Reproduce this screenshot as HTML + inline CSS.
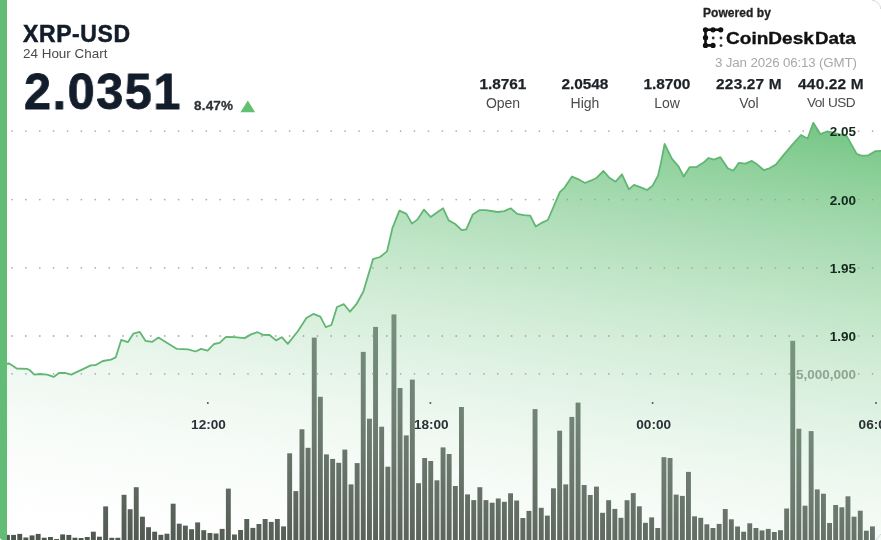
<!DOCTYPE html>
<html>
<head>
<meta charset="utf-8">
<style>
html,body{margin:0;padding:0;}
*{-webkit-font-smoothing:antialiased;}
#chart,.abs,.stat{will-change:transform;}
body{width:881px;height:540px;overflow:hidden;background:#fff;position:relative;font-family:"Liberation Sans",sans-serif;}
.abs{position:absolute;white-space:nowrap;}
#chart{position:absolute;left:0;top:0;}
.t{font-family:"Liberation Sans",sans-serif;}
#lbar{position:absolute;left:0;top:0;width:7px;height:540px;background:#63bc76;border-bottom-left-radius:3px;}
.sym{left:23px;top:20.5px;font-size:23px;font-weight:bold;color:#121c2a;letter-spacing:0.6px;-webkit-text-stroke:0.5px #121c2a;}
.sub{left:23px;top:45.6px;font-size:13.45px;color:#4a4a4a;}
.price{left:23.5px;top:62.2px;font-size:50.5px;font-weight:bold;color:#121c2a;letter-spacing:1.7px;-webkit-text-stroke:0.8px #121c2a;transform:scaleX(0.96);transform-origin:0 0;}
.pct{left:194px;top:98px;font-size:13.5px;font-weight:bold;color:#2e3338;letter-spacing:0.2px;-webkit-text-stroke:0.3px #2e3338;}
.stat{position:absolute;top:74.8px;width:90px;text-align:center;}
.stat .v{font-size:15.4px;font-weight:bold;color:#1d2228;line-height:18px;letter-spacing:-0.05px;-webkit-text-stroke:0.25px #1d2228;}
.stat .l{font-size:14px;color:#4a4a4a;line-height:16px;margin-top:2.2px;}
.pow{left:703px;top:5.5px;font-size:12px;font-weight:bold;color:#222;letter-spacing:0.05px;-webkit-text-stroke:0.3px #222;}
.cd{top:29px;font-size:17px;font-weight:bold;color:#111;transform-origin:0 0;-webkit-text-stroke:0.35px #111;}
.date{left:714.5px;top:55px;font-size:13.3px;color:#a8a8a8;letter-spacing:-0.14px;}
</style>
</head>
<body>
<svg id="chart" width="881" height="540" viewBox="0 0 881 540">
<defs>
<linearGradient id="g" gradientUnits="userSpaceOnUse" x1="881" y1="51" x2="790.1" y2="673.7"><stop offset="0.0000" stop-color="rgb(74,180,95)" stop-opacity="1.0000"/><stop offset="0.0625" stop-color="rgb(86,185,105)" stop-opacity="0.9375"/><stop offset="0.1250" stop-color="rgb(97,189,115)" stop-opacity="0.8750"/><stop offset="0.1875" stop-color="rgb(108,194,125)" stop-opacity="0.8125"/><stop offset="0.2500" stop-color="rgb(120,199,135)" stop-opacity="0.7500"/><stop offset="0.3125" stop-color="rgb(131,203,145)" stop-opacity="0.6875"/><stop offset="0.3750" stop-color="rgb(142,208,155)" stop-opacity="0.6250"/><stop offset="0.4375" stop-color="rgb(153,213,165)" stop-opacity="0.5625"/><stop offset="0.5000" stop-color="rgb(165,218,175)" stop-opacity="0.5000"/><stop offset="0.5625" stop-color="rgb(176,222,185)" stop-opacity="0.4375"/><stop offset="0.6250" stop-color="rgb(187,227,195)" stop-opacity="0.3750"/><stop offset="0.6875" stop-color="rgb(199,232,205)" stop-opacity="0.3125"/><stop offset="0.7500" stop-color="rgb(210,236,215)" stop-opacity="0.2500"/><stop offset="0.8125" stop-color="rgb(221,241,225)" stop-opacity="0.1875"/><stop offset="0.8750" stop-color="rgb(232,246,235)" stop-opacity="0.1250"/><stop offset="0.9375" stop-color="rgb(244,250,245)" stop-opacity="0.0625"/><stop offset="1.0000" stop-color="rgb(255,255,255)" stop-opacity="0.0000"/></linearGradient>
</defs>
<g fill="rgb(70,79,72)"><rect x="5" y="534.9" width="4.9" height="10.1"/><rect x="11.1" y="534.9" width="4.9" height="10.1"/><rect x="17.3" y="533.9" width="4.9" height="11.1"/><rect x="23.4" y="537.5" width="4.9" height="7.5"/><rect x="29.6" y="535.4" width="4.9" height="9.6"/><rect x="35.7" y="533.9" width="4.9" height="11.1"/><rect x="41.8" y="537.7" width="4.9" height="7.3"/><rect x="48" y="537" width="4.9" height="8"/><rect x="54.1" y="539" width="4.9" height="6"/><rect x="60.2" y="534.4" width="4.9" height="10.6"/><rect x="66.4" y="534.9" width="4.9" height="10.1"/><rect x="72.5" y="537.7" width="4.9" height="7.3"/><rect x="78.6" y="538" width="4.9" height="7"/><rect x="84.8" y="537" width="4.9" height="8"/><rect x="90.9" y="531.7" width="4.9" height="13.3"/><rect x="97" y="536.7" width="4.9" height="8.3"/><rect x="103.2" y="506.4" width="4.9" height="38.6"/><rect x="109.3" y="537.8" width="4.9" height="7.2"/><rect x="115.4" y="537.8" width="4.9" height="7.2"/><rect x="121.6" y="494.8" width="4.9" height="50.2"/><rect x="127.7" y="509.2" width="4.9" height="35.8"/><rect x="133.8" y="487.2" width="4.9" height="57.8"/><rect x="140" y="516.7" width="4.9" height="28.3"/><rect x="146.1" y="527.2" width="4.9" height="17.8"/><rect x="152.2" y="531.7" width="4.9" height="13.3"/><rect x="158.4" y="534.8" width="4.9" height="10.2"/><rect x="164.5" y="533.7" width="4.9" height="11.3"/><rect x="170.7" y="503.7" width="4.9" height="41.3"/><rect x="176.8" y="523.7" width="4.9" height="21.3"/><rect x="182.9" y="525.6" width="4.9" height="19.4"/><rect x="189.1" y="529.2" width="4.9" height="15.8"/><rect x="195.2" y="522.4" width="4.9" height="22.6"/><rect x="201.3" y="530.2" width="4.9" height="14.8"/><rect x="207.5" y="533" width="4.9" height="12"/><rect x="213.6" y="533.5" width="4.9" height="11.5"/><rect x="219.7" y="528.9" width="4.9" height="16.1"/><rect x="225.9" y="488.6" width="4.9" height="56.4"/><rect x="232" y="534.5" width="4.9" height="10.5"/><rect x="238.1" y="530" width="4.9" height="15"/><rect x="244.3" y="519" width="4.9" height="26"/><rect x="250.4" y="527.9" width="4.9" height="17.1"/><rect x="256.5" y="524" width="4.9" height="21"/><rect x="262.7" y="519" width="4.9" height="26"/><rect x="268.8" y="521.9" width="4.9" height="23.1"/><rect x="274.9" y="519" width="4.9" height="26"/><rect x="281.1" y="526.4" width="4.9" height="18.6"/><rect x="287.2" y="453.3" width="4.9" height="91.7"/><rect x="293.4" y="491.1" width="4.9" height="53.9"/><rect x="299.5" y="429.3" width="4.9" height="115.7"/><rect x="305.6" y="447.8" width="4.9" height="97.2"/><rect x="311.8" y="337.6" width="4.9" height="207.4"/><rect x="317.9" y="396.8" width="4.9" height="148.2"/><rect x="324" y="454.4" width="4.9" height="90.6"/><rect x="330.2" y="458.9" width="4.9" height="86.1"/><rect x="336.3" y="462.8" width="4.9" height="82.2"/><rect x="342.4" y="449.6" width="4.9" height="95.4"/><rect x="348.6" y="484.4" width="4.9" height="60.6"/><rect x="354.7" y="463.1" width="4.9" height="81.9"/><rect x="360.8" y="351.9" width="4.9" height="193.1"/><rect x="367" y="418.7" width="4.9" height="126.3"/><rect x="373.1" y="326.9" width="4.9" height="218.1"/><rect x="379.2" y="426.7" width="4.9" height="118.3"/><rect x="385.4" y="466.7" width="4.9" height="78.3"/><rect x="391.5" y="314.4" width="4.9" height="230.6"/><rect x="397.6" y="388" width="4.9" height="157"/><rect x="403.8" y="435.4" width="4.9" height="109.6"/><rect x="409.9" y="379.6" width="4.9" height="165.4"/><rect x="416.1" y="483.2" width="4.9" height="61.8"/><rect x="422.2" y="458" width="4.9" height="87"/><rect x="428.3" y="461" width="4.9" height="84"/><rect x="434.5" y="480.3" width="4.9" height="64.7"/><rect x="440.6" y="447.4" width="4.9" height="97.6"/><rect x="446.7" y="454" width="4.9" height="91"/><rect x="452.9" y="486" width="4.9" height="59"/><rect x="459" y="407" width="4.9" height="138"/><rect x="465.1" y="494.4" width="4.9" height="50.6"/><rect x="471.3" y="500.1" width="4.9" height="44.9"/><rect x="477.4" y="487.2" width="4.9" height="57.8"/><rect x="483.5" y="500.1" width="4.9" height="44.9"/><rect x="489.7" y="502.7" width="4.9" height="42.3"/><rect x="495.8" y="498.5" width="4.9" height="46.5"/><rect x="501.9" y="501.8" width="4.9" height="43.2"/><rect x="508.1" y="493.3" width="4.9" height="51.7"/><rect x="514.2" y="500.5" width="4.9" height="44.5"/><rect x="520.4" y="518" width="4.9" height="27"/><rect x="526.5" y="510.9" width="4.9" height="34.1"/><rect x="532.6" y="409.1" width="4.9" height="135.9"/><rect x="538.8" y="507.8" width="4.9" height="37.2"/><rect x="544.9" y="515.6" width="4.9" height="29.4"/><rect x="551" y="488.3" width="4.9" height="56.7"/><rect x="557.2" y="430.7" width="4.9" height="114.3"/><rect x="563.3" y="484.4" width="4.9" height="60.6"/><rect x="569.4" y="416.9" width="4.9" height="128.1"/><rect x="575.6" y="402.6" width="4.9" height="142.4"/><rect x="581.7" y="485" width="4.9" height="60"/><rect x="587.8" y="495" width="4.9" height="50"/><rect x="594" y="486.6" width="4.9" height="58.4"/><rect x="600.1" y="512.8" width="4.9" height="32.2"/><rect x="606.2" y="500.2" width="4.9" height="44.8"/><rect x="612.4" y="508.9" width="4.9" height="36.1"/><rect x="618.5" y="517.8" width="4.9" height="27.2"/><rect x="624.6" y="500.2" width="4.9" height="44.8"/><rect x="630.8" y="493.1" width="4.9" height="51.9"/><rect x="636.9" y="506.3" width="4.9" height="38.7"/><rect x="643" y="522.8" width="4.9" height="22.2"/><rect x="649.2" y="517.4" width="4.9" height="27.6"/><rect x="655.3" y="528" width="4.9" height="17"/><rect x="661.5" y="457.2" width="4.9" height="87.8"/><rect x="667.6" y="458" width="4.9" height="87"/><rect x="673.7" y="494.6" width="4.9" height="50.4"/><rect x="679.9" y="495.9" width="4.9" height="49.1"/><rect x="686" y="471.9" width="4.9" height="73.1"/><rect x="692.1" y="516.3" width="4.9" height="28.7"/><rect x="698.3" y="517.8" width="4.9" height="27.2"/><rect x="704.4" y="524.3" width="4.9" height="20.7"/><rect x="710.5" y="528" width="4.9" height="17"/><rect x="716.7" y="523.9" width="4.9" height="21.1"/><rect x="722.8" y="509" width="4.9" height="36"/><rect x="728.9" y="519.3" width="4.9" height="25.7"/><rect x="735.1" y="526.5" width="4.9" height="18.5"/><rect x="741.2" y="531.7" width="4.9" height="13.3"/><rect x="747.3" y="523.3" width="4.9" height="21.7"/><rect x="753.5" y="528" width="4.9" height="17"/><rect x="759.6" y="530.4" width="4.9" height="14.6"/><rect x="765.8" y="528.9" width="4.9" height="16.1"/><rect x="771.9" y="532" width="4.9" height="13"/><rect x="778" y="530.2" width="4.9" height="14.8"/><rect x="784.2" y="508.5" width="4.9" height="36.5"/><rect x="790.3" y="340.8" width="4.9" height="204.2"/><rect x="796.4" y="428.7" width="4.9" height="116.3"/><rect x="802.6" y="505.7" width="4.9" height="39.3"/><rect x="808.7" y="431.1" width="4.9" height="113.9"/><rect x="814.8" y="489.4" width="4.9" height="55.6"/><rect x="821" y="493.7" width="4.9" height="51.3"/><rect x="827.1" y="523" width="4.9" height="22"/><rect x="833.2" y="505" width="4.9" height="40"/><rect x="839.4" y="507.3" width="4.9" height="37.7"/><rect x="845.5" y="496.3" width="4.9" height="48.7"/><rect x="851.6" y="516.7" width="4.9" height="28.3"/><rect x="857.8" y="510.7" width="4.9" height="34.3"/><rect x="863.9" y="530.7" width="4.9" height="14.3"/><rect x="870" y="526.4" width="4.9" height="18.6"/></g>
<path d="M-2,364.5 L9.3,363.5 L16.7,368.5 L26.9,368.9 L29.6,370 L34.3,374.6 L39.8,374 L47.2,374.6 L53.7,376.9 L59.3,372.8 L65.7,373 L71.3,374.6 L82.4,369.4 L90.7,365.4 L95.4,365.2 L102.8,361 L111,359.6 L115.7,357.4 L121.3,339.8 L127.8,342.2 L133.3,333.7 L139.8,331.9 L145.6,340.9 L152,341.9 L158.5,337.6 L164,341 L177,348.9 L188,349.3 L195.6,351.5 L201,348.9 L207.6,350.7 L214,344 L219.6,342.8 L226,336.9 L234.4,337.2 L244.6,338.1 L251,334.4 L257.6,332.2 L263,334.8 L269.6,335 L276,340.4 L281.7,337.2 L287.8,343.9 L298,331 L306.4,318 L313.3,313.9 L320.3,316.7 L325.8,327.2 L331.4,325 L337,307 L343.9,304.2 L350,311.7 L356.4,304.2 L363.3,291.7 L373,259.2 L380,257 L387,251.4 L392.5,227.8 L399.4,210.6 L406.4,213.9 L412,223.6 L417.5,219.4 L424,209.6 L430.7,217 L437.6,212 L443.1,208.3 L448.7,220.4 L455.2,224 L461.7,230.2 L466.3,229.3 L472.8,214.4 L479.3,210.2 L485.7,210.2 L497.8,212 L504.3,211.1 L510.7,208.3 L517.2,213.9 L523.7,215.2 L530.2,215.7 L535.7,226.5 L542.2,222.6 L547.8,220 L553.3,207.4 L559.8,192.2 L564.6,187.6 L572,176.5 L578.5,179.3 L585,183 L590.6,180.7 L596,178.3 L603.5,171 L609,177.4 L615.6,181.7 L622,174.3 L628.9,189.4 L634,184.8 L641.5,187.6 L647,190 L652.6,185.7 L658,175.6 L661,162.6 L664.6,144 L672,158.9 L678.5,166.3 L683.7,176.5 L689.6,167.2 L696,167.2 L703.5,162.6 L708.6,158 L713.9,159.6 L720.4,157.2 L727.8,168.3 L733.3,170.7 L738.9,162.8 L745.4,163.7 L751.9,160.9 L757.4,164.6 L763.9,170.2 L769.4,168.3 L775.9,164.6 L783.3,155.4 L792.6,144.3 L801,135 L807.6,138.5 L813.3,122.8 L820.5,134.2 L826.8,131.5 L831,132.2 L846.7,136.1 L856.7,153.9 L861,155.6 L867.8,155.6 L875.6,151.1 L884,150.9 L884,545 L-2,545 Z" fill="url(#g)"/>
<g fill="#9a9a9a" fill-opacity="0.8"><circle cx="12" cy="131.1" r="0.9"/><circle cx="25.9" cy="131.1" r="0.9"/><circle cx="39.8" cy="131.1" r="0.9"/><circle cx="53.6" cy="131.1" r="0.9"/><circle cx="67.5" cy="131.1" r="0.9"/><circle cx="81.4" cy="131.1" r="0.9"/><circle cx="95.3" cy="131.1" r="0.9"/><circle cx="109.2" cy="131.1" r="0.9"/><circle cx="123" cy="131.1" r="0.9"/><circle cx="136.9" cy="131.1" r="0.9"/><circle cx="150.8" cy="131.1" r="0.9"/><circle cx="164.7" cy="131.1" r="0.9"/><circle cx="178.6" cy="131.1" r="0.9"/><circle cx="192.4" cy="131.1" r="0.9"/><circle cx="206.3" cy="131.1" r="0.9"/><circle cx="220.2" cy="131.1" r="0.9"/><circle cx="234.1" cy="131.1" r="0.9"/><circle cx="248" cy="131.1" r="0.9"/><circle cx="261.8" cy="131.1" r="0.9"/><circle cx="275.7" cy="131.1" r="0.9"/><circle cx="289.6" cy="131.1" r="0.9"/><circle cx="303.5" cy="131.1" r="0.9"/><circle cx="317.4" cy="131.1" r="0.9"/><circle cx="331.2" cy="131.1" r="0.9"/><circle cx="345.1" cy="131.1" r="0.9"/><circle cx="359" cy="131.1" r="0.9"/><circle cx="372.9" cy="131.1" r="0.9"/><circle cx="386.8" cy="131.1" r="0.9"/><circle cx="400.6" cy="131.1" r="0.9"/><circle cx="414.5" cy="131.1" r="0.9"/><circle cx="428.4" cy="131.1" r="0.9"/><circle cx="442.3" cy="131.1" r="0.9"/><circle cx="456.2" cy="131.1" r="0.9"/><circle cx="470" cy="131.1" r="0.9"/><circle cx="483.9" cy="131.1" r="0.9"/><circle cx="497.8" cy="131.1" r="0.9"/><circle cx="511.7" cy="131.1" r="0.9"/><circle cx="525.6" cy="131.1" r="0.9"/><circle cx="539.4" cy="131.1" r="0.9"/><circle cx="553.3" cy="131.1" r="0.9"/><circle cx="567.2" cy="131.1" r="0.9"/><circle cx="581.1" cy="131.1" r="0.9"/><circle cx="595" cy="131.1" r="0.9"/><circle cx="608.8" cy="131.1" r="0.9"/><circle cx="622.7" cy="131.1" r="0.9"/><circle cx="636.6" cy="131.1" r="0.9"/><circle cx="650.5" cy="131.1" r="0.9"/><circle cx="664.4" cy="131.1" r="0.9"/><circle cx="678.2" cy="131.1" r="0.9"/><circle cx="692.1" cy="131.1" r="0.9"/><circle cx="706" cy="131.1" r="0.9"/><circle cx="719.9" cy="131.1" r="0.9"/><circle cx="733.8" cy="131.1" r="0.9"/><circle cx="747.6" cy="131.1" r="0.9"/><circle cx="761.5" cy="131.1" r="0.9"/><circle cx="775.4" cy="131.1" r="0.9"/><circle cx="789.3" cy="131.1" r="0.9"/><circle cx="803.2" cy="131.1" r="0.9"/><circle cx="817" cy="131.1" r="0.9"/><circle cx="858.7" cy="131.1" r="0.9"/><circle cx="872.6" cy="131.1" r="0.9"/><circle cx="12" cy="199.6" r="0.9"/><circle cx="25.9" cy="199.6" r="0.9"/><circle cx="39.8" cy="199.6" r="0.9"/><circle cx="53.6" cy="199.6" r="0.9"/><circle cx="67.5" cy="199.6" r="0.9"/><circle cx="81.4" cy="199.6" r="0.9"/><circle cx="95.3" cy="199.6" r="0.9"/><circle cx="109.2" cy="199.6" r="0.9"/><circle cx="123" cy="199.6" r="0.9"/><circle cx="136.9" cy="199.6" r="0.9"/><circle cx="150.8" cy="199.6" r="0.9"/><circle cx="164.7" cy="199.6" r="0.9"/><circle cx="178.6" cy="199.6" r="0.9"/><circle cx="192.4" cy="199.6" r="0.9"/><circle cx="206.3" cy="199.6" r="0.9"/><circle cx="220.2" cy="199.6" r="0.9"/><circle cx="234.1" cy="199.6" r="0.9"/><circle cx="248" cy="199.6" r="0.9"/><circle cx="261.8" cy="199.6" r="0.9"/><circle cx="275.7" cy="199.6" r="0.9"/><circle cx="289.6" cy="199.6" r="0.9"/><circle cx="303.5" cy="199.6" r="0.9"/><circle cx="317.4" cy="199.6" r="0.9"/><circle cx="331.2" cy="199.6" r="0.9"/><circle cx="345.1" cy="199.6" r="0.9"/><circle cx="359" cy="199.6" r="0.9"/><circle cx="372.9" cy="199.6" r="0.9"/><circle cx="386.8" cy="199.6" r="0.9"/><circle cx="400.6" cy="199.6" r="0.9"/><circle cx="414.5" cy="199.6" r="0.9"/><circle cx="428.4" cy="199.6" r="0.9"/><circle cx="442.3" cy="199.6" r="0.9"/><circle cx="456.2" cy="199.6" r="0.9"/><circle cx="470" cy="199.6" r="0.9"/><circle cx="483.9" cy="199.6" r="0.9"/><circle cx="497.8" cy="199.6" r="0.9"/><circle cx="511.7" cy="199.6" r="0.9"/><circle cx="525.6" cy="199.6" r="0.9"/><circle cx="539.4" cy="199.6" r="0.9"/><circle cx="553.3" cy="199.6" r="0.9"/><circle cx="567.2" cy="199.6" r="0.9"/><circle cx="581.1" cy="199.6" r="0.9"/><circle cx="595" cy="199.6" r="0.9"/><circle cx="608.8" cy="199.6" r="0.9"/><circle cx="622.7" cy="199.6" r="0.9"/><circle cx="636.6" cy="199.6" r="0.9"/><circle cx="650.5" cy="199.6" r="0.9"/><circle cx="664.4" cy="199.6" r="0.9"/><circle cx="678.2" cy="199.6" r="0.9"/><circle cx="692.1" cy="199.6" r="0.9"/><circle cx="706" cy="199.6" r="0.9"/><circle cx="719.9" cy="199.6" r="0.9"/><circle cx="733.8" cy="199.6" r="0.9"/><circle cx="747.6" cy="199.6" r="0.9"/><circle cx="761.5" cy="199.6" r="0.9"/><circle cx="775.4" cy="199.6" r="0.9"/><circle cx="789.3" cy="199.6" r="0.9"/><circle cx="803.2" cy="199.6" r="0.9"/><circle cx="817" cy="199.6" r="0.9"/><circle cx="858.7" cy="199.6" r="0.9"/><circle cx="872.6" cy="199.6" r="0.9"/><circle cx="12" cy="267.8" r="0.9"/><circle cx="25.9" cy="267.8" r="0.9"/><circle cx="39.8" cy="267.8" r="0.9"/><circle cx="53.6" cy="267.8" r="0.9"/><circle cx="67.5" cy="267.8" r="0.9"/><circle cx="81.4" cy="267.8" r="0.9"/><circle cx="95.3" cy="267.8" r="0.9"/><circle cx="109.2" cy="267.8" r="0.9"/><circle cx="123" cy="267.8" r="0.9"/><circle cx="136.9" cy="267.8" r="0.9"/><circle cx="150.8" cy="267.8" r="0.9"/><circle cx="164.7" cy="267.8" r="0.9"/><circle cx="178.6" cy="267.8" r="0.9"/><circle cx="192.4" cy="267.8" r="0.9"/><circle cx="206.3" cy="267.8" r="0.9"/><circle cx="220.2" cy="267.8" r="0.9"/><circle cx="234.1" cy="267.8" r="0.9"/><circle cx="248" cy="267.8" r="0.9"/><circle cx="261.8" cy="267.8" r="0.9"/><circle cx="275.7" cy="267.8" r="0.9"/><circle cx="289.6" cy="267.8" r="0.9"/><circle cx="303.5" cy="267.8" r="0.9"/><circle cx="317.4" cy="267.8" r="0.9"/><circle cx="331.2" cy="267.8" r="0.9"/><circle cx="345.1" cy="267.8" r="0.9"/><circle cx="359" cy="267.8" r="0.9"/><circle cx="372.9" cy="267.8" r="0.9"/><circle cx="386.8" cy="267.8" r="0.9"/><circle cx="400.6" cy="267.8" r="0.9"/><circle cx="414.5" cy="267.8" r="0.9"/><circle cx="428.4" cy="267.8" r="0.9"/><circle cx="442.3" cy="267.8" r="0.9"/><circle cx="456.2" cy="267.8" r="0.9"/><circle cx="470" cy="267.8" r="0.9"/><circle cx="483.9" cy="267.8" r="0.9"/><circle cx="497.8" cy="267.8" r="0.9"/><circle cx="511.7" cy="267.8" r="0.9"/><circle cx="525.6" cy="267.8" r="0.9"/><circle cx="539.4" cy="267.8" r="0.9"/><circle cx="553.3" cy="267.8" r="0.9"/><circle cx="567.2" cy="267.8" r="0.9"/><circle cx="581.1" cy="267.8" r="0.9"/><circle cx="595" cy="267.8" r="0.9"/><circle cx="608.8" cy="267.8" r="0.9"/><circle cx="622.7" cy="267.8" r="0.9"/><circle cx="636.6" cy="267.8" r="0.9"/><circle cx="650.5" cy="267.8" r="0.9"/><circle cx="664.4" cy="267.8" r="0.9"/><circle cx="678.2" cy="267.8" r="0.9"/><circle cx="692.1" cy="267.8" r="0.9"/><circle cx="706" cy="267.8" r="0.9"/><circle cx="719.9" cy="267.8" r="0.9"/><circle cx="733.8" cy="267.8" r="0.9"/><circle cx="747.6" cy="267.8" r="0.9"/><circle cx="761.5" cy="267.8" r="0.9"/><circle cx="775.4" cy="267.8" r="0.9"/><circle cx="789.3" cy="267.8" r="0.9"/><circle cx="803.2" cy="267.8" r="0.9"/><circle cx="817" cy="267.8" r="0.9"/><circle cx="858.7" cy="267.8" r="0.9"/><circle cx="872.6" cy="267.8" r="0.9"/><circle cx="12" cy="336" r="0.9"/><circle cx="25.9" cy="336" r="0.9"/><circle cx="39.8" cy="336" r="0.9"/><circle cx="53.6" cy="336" r="0.9"/><circle cx="67.5" cy="336" r="0.9"/><circle cx="81.4" cy="336" r="0.9"/><circle cx="95.3" cy="336" r="0.9"/><circle cx="109.2" cy="336" r="0.9"/><circle cx="123" cy="336" r="0.9"/><circle cx="136.9" cy="336" r="0.9"/><circle cx="150.8" cy="336" r="0.9"/><circle cx="164.7" cy="336" r="0.9"/><circle cx="178.6" cy="336" r="0.9"/><circle cx="192.4" cy="336" r="0.9"/><circle cx="206.3" cy="336" r="0.9"/><circle cx="220.2" cy="336" r="0.9"/><circle cx="234.1" cy="336" r="0.9"/><circle cx="248" cy="336" r="0.9"/><circle cx="261.8" cy="336" r="0.9"/><circle cx="275.7" cy="336" r="0.9"/><circle cx="289.6" cy="336" r="0.9"/><circle cx="303.5" cy="336" r="0.9"/><circle cx="317.4" cy="336" r="0.9"/><circle cx="331.2" cy="336" r="0.9"/><circle cx="345.1" cy="336" r="0.9"/><circle cx="359" cy="336" r="0.9"/><circle cx="372.9" cy="336" r="0.9"/><circle cx="386.8" cy="336" r="0.9"/><circle cx="400.6" cy="336" r="0.9"/><circle cx="414.5" cy="336" r="0.9"/><circle cx="428.4" cy="336" r="0.9"/><circle cx="442.3" cy="336" r="0.9"/><circle cx="456.2" cy="336" r="0.9"/><circle cx="470" cy="336" r="0.9"/><circle cx="483.9" cy="336" r="0.9"/><circle cx="497.8" cy="336" r="0.9"/><circle cx="511.7" cy="336" r="0.9"/><circle cx="525.6" cy="336" r="0.9"/><circle cx="539.4" cy="336" r="0.9"/><circle cx="553.3" cy="336" r="0.9"/><circle cx="567.2" cy="336" r="0.9"/><circle cx="581.1" cy="336" r="0.9"/><circle cx="595" cy="336" r="0.9"/><circle cx="608.8" cy="336" r="0.9"/><circle cx="622.7" cy="336" r="0.9"/><circle cx="636.6" cy="336" r="0.9"/><circle cx="650.5" cy="336" r="0.9"/><circle cx="664.4" cy="336" r="0.9"/><circle cx="678.2" cy="336" r="0.9"/><circle cx="692.1" cy="336" r="0.9"/><circle cx="706" cy="336" r="0.9"/><circle cx="719.9" cy="336" r="0.9"/><circle cx="733.8" cy="336" r="0.9"/><circle cx="747.6" cy="336" r="0.9"/><circle cx="761.5" cy="336" r="0.9"/><circle cx="775.4" cy="336" r="0.9"/><circle cx="789.3" cy="336" r="0.9"/><circle cx="803.2" cy="336" r="0.9"/><circle cx="817" cy="336" r="0.9"/><circle cx="858.7" cy="336" r="0.9"/><circle cx="872.6" cy="336" r="0.9"/><circle cx="12" cy="373.8" r="0.9"/><circle cx="25.9" cy="373.8" r="0.9"/><circle cx="39.8" cy="373.8" r="0.9"/><circle cx="53.6" cy="373.8" r="0.9"/><circle cx="67.5" cy="373.8" r="0.9"/><circle cx="81.4" cy="373.8" r="0.9"/><circle cx="95.3" cy="373.8" r="0.9"/><circle cx="109.2" cy="373.8" r="0.9"/><circle cx="123" cy="373.8" r="0.9"/><circle cx="136.9" cy="373.8" r="0.9"/><circle cx="150.8" cy="373.8" r="0.9"/><circle cx="164.7" cy="373.8" r="0.9"/><circle cx="178.6" cy="373.8" r="0.9"/><circle cx="192.4" cy="373.8" r="0.9"/><circle cx="206.3" cy="373.8" r="0.9"/><circle cx="220.2" cy="373.8" r="0.9"/><circle cx="234.1" cy="373.8" r="0.9"/><circle cx="248" cy="373.8" r="0.9"/><circle cx="261.8" cy="373.8" r="0.9"/><circle cx="275.7" cy="373.8" r="0.9"/><circle cx="289.6" cy="373.8" r="0.9"/><circle cx="303.5" cy="373.8" r="0.9"/><circle cx="317.4" cy="373.8" r="0.9"/><circle cx="331.2" cy="373.8" r="0.9"/><circle cx="345.1" cy="373.8" r="0.9"/><circle cx="359" cy="373.8" r="0.9"/><circle cx="372.9" cy="373.8" r="0.9"/><circle cx="386.8" cy="373.8" r="0.9"/><circle cx="400.6" cy="373.8" r="0.9"/><circle cx="414.5" cy="373.8" r="0.9"/><circle cx="428.4" cy="373.8" r="0.9"/><circle cx="442.3" cy="373.8" r="0.9"/><circle cx="456.2" cy="373.8" r="0.9"/><circle cx="470" cy="373.8" r="0.9"/><circle cx="483.9" cy="373.8" r="0.9"/><circle cx="497.8" cy="373.8" r="0.9"/><circle cx="511.7" cy="373.8" r="0.9"/><circle cx="525.6" cy="373.8" r="0.9"/><circle cx="539.4" cy="373.8" r="0.9"/><circle cx="553.3" cy="373.8" r="0.9"/><circle cx="567.2" cy="373.8" r="0.9"/><circle cx="581.1" cy="373.8" r="0.9"/><circle cx="595" cy="373.8" r="0.9"/><circle cx="608.8" cy="373.8" r="0.9"/><circle cx="622.7" cy="373.8" r="0.9"/><circle cx="636.6" cy="373.8" r="0.9"/><circle cx="650.5" cy="373.8" r="0.9"/><circle cx="664.4" cy="373.8" r="0.9"/><circle cx="678.2" cy="373.8" r="0.9"/><circle cx="692.1" cy="373.8" r="0.9"/><circle cx="706" cy="373.8" r="0.9"/><circle cx="719.9" cy="373.8" r="0.9"/><circle cx="733.8" cy="373.8" r="0.9"/><circle cx="747.6" cy="373.8" r="0.9"/><circle cx="761.5" cy="373.8" r="0.9"/><circle cx="775.4" cy="373.8" r="0.9"/><circle cx="789.3" cy="373.8" r="0.9"/><circle cx="858.7" cy="373.8" r="0.9"/><circle cx="872.6" cy="373.8" r="0.9"/></g>
<polyline points="-2,364.5 9.3,363.5 16.7,368.5 26.9,368.9 29.6,370 34.3,374.6 39.8,374 47.2,374.6 53.7,376.9 59.3,372.8 65.7,373 71.3,374.6 82.4,369.4 90.7,365.4 95.4,365.2 102.8,361 111,359.6 115.7,357.4 121.3,339.8 127.8,342.2 133.3,333.7 139.8,331.9 145.6,340.9 152,341.9 158.5,337.6 164,341 177,348.9 188,349.3 195.6,351.5 201,348.9 207.6,350.7 214,344 219.6,342.8 226,336.9 234.4,337.2 244.6,338.1 251,334.4 257.6,332.2 263,334.8 269.6,335 276,340.4 281.7,337.2 287.8,343.9 298,331 306.4,318 313.3,313.9 320.3,316.7 325.8,327.2 331.4,325 337,307 343.9,304.2 350,311.7 356.4,304.2 363.3,291.7 373,259.2 380,257 387,251.4 392.5,227.8 399.4,210.6 406.4,213.9 412,223.6 417.5,219.4 424,209.6 430.7,217 437.6,212 443.1,208.3 448.7,220.4 455.2,224 461.7,230.2 466.3,229.3 472.8,214.4 479.3,210.2 485.7,210.2 497.8,212 504.3,211.1 510.7,208.3 517.2,213.9 523.7,215.2 530.2,215.7 535.7,226.5 542.2,222.6 547.8,220 553.3,207.4 559.8,192.2 564.6,187.6 572,176.5 578.5,179.3 585,183 590.6,180.7 596,178.3 603.5,171 609,177.4 615.6,181.7 622,174.3 628.9,189.4 634,184.8 641.5,187.6 647,190 652.6,185.7 658,175.6 661,162.6 664.6,144 672,158.9 678.5,166.3 683.7,176.5 689.6,167.2 696,167.2 703.5,162.6 708.6,158 713.9,159.6 720.4,157.2 727.8,168.3 733.3,170.7 738.9,162.8 745.4,163.7 751.9,160.9 757.4,164.6 763.9,170.2 769.4,168.3 775.9,164.6 783.3,155.4 792.6,144.3 801,135 807.6,138.5 813.3,122.8 820.5,134.2 826.8,131.5 831,132.2 846.7,136.1 856.7,153.9 861,155.6 867.8,155.6 875.6,151.1 884,150.9" fill="none" stroke="rgb(98,182,116)" stroke-width="1.8" stroke-linejoin="round"/>
<g fill="#555"><circle cx="207.8" cy="403.1" r="1"/><circle cx="430.4" cy="403.1" r="1"/><circle cx="652.6" cy="403.1" r="1"/><circle cx="876" cy="403.1" r="1"/></g>
<g font-family="Liberation Sans, sans-serif" font-weight="bold" font-size="13.5" fill="#14281c" text-anchor="end">
<text x="856" y="136.3">2.05</text>
<text x="856" y="204.8">2.00</text>
<text x="856" y="273">1.95</text>
<text x="856" y="341.4">1.90</text>
<text x="856" y="379" fill="#8ea592">5,000,000</text>
</g>
<g font-family="Liberation Sans, sans-serif" font-weight="bold" font-size="13.6" fill="#2a3036" text-anchor="middle">
<text x="208.5" y="429.3">12:00</text>
<text x="431.3" y="429.3">18:00</text>
<text x="653.7" y="429.3">00:00</text>
<text x="876" y="429.3">06:00</text>
</g>
<path d="M872,0.3 A 9 9 0 0 1 880.7,9" fill="none" stroke="#d8d8d8" stroke-width="1"/>
<path d="M876,540 L881,534" fill="none" stroke="#d8d8d8" stroke-width="1"/>
<!-- logo -->
<g transform="translate(0,0)">
<g stroke="#111" stroke-width="2.6" stroke-linecap="round" fill="none">
<path d="M720.7,29.8 L705.5,29.8 L705.5,45.4 L713,45.4"/>
</g>
<g fill="#111">
<circle cx="705.5" cy="29.8" r="2.65"/><circle cx="713" cy="29.8" r="2.65"/><circle cx="720.7" cy="29.8" r="2.65"/>
<circle cx="705.5" cy="37.7" r="2.65"/><circle cx="705.5" cy="45.4" r="2.65"/><circle cx="713" cy="45.4" r="2.65"/>
<circle cx="713.2" cy="38" r="1.45" fill="#333"/><circle cx="721" cy="38" r="1.45" fill="#333"/><circle cx="721" cy="45.6" r="1.45" fill="#333"/>
</g>
</g>
</svg>
<div id="lbar"></div>
<div class="abs sym">XRP-USD</div>
<div class="abs sub">24 Hour Chart</div>
<div class="abs price">2.0351</div>
<div class="abs pct">8.47%</div>
<svg class="abs" style="left:240px;top:99.5px" width="16" height="13" viewBox="0 0 16 13"><path d="M7.85,0.5 L15.1,12.3 L0.4,12.3 Z" fill="#62c072"/></svg>
<div class="stat" style="left:458px"><div class="v">1.8761</div><div class="l">Open</div></div>
<div class="stat" style="left:540px"><div class="v">2.0548</div><div class="l">High</div></div>
<div class="stat" style="left:622px"><div class="v">1.8700</div><div class="l">Low</div></div>
<div class="stat" style="left:704px"><div class="v" style="letter-spacing:0.2px">223.27 M</div><div class="l">Vol</div></div>
<div class="stat" style="left:786px"><div class="v" style="letter-spacing:0.2px">440.22 M</div><div class="l" style="letter-spacing:-0.6px;word-spacing:0.6px;font-size:13.6px">Vol USD</div></div>
<div class="abs pow">Powered by</div>
<div class="abs cd" id="cd1" style="left:725.8px;transform:scaleX(1.12)">CoinDesk</div><div class="abs cd" id="cd2" style="left:815.4px;transform:scaleX(1.105)">Data</div>
<div class="abs date">3 Jan 2026 06:13 (GMT)</div>
</body>
</html>
